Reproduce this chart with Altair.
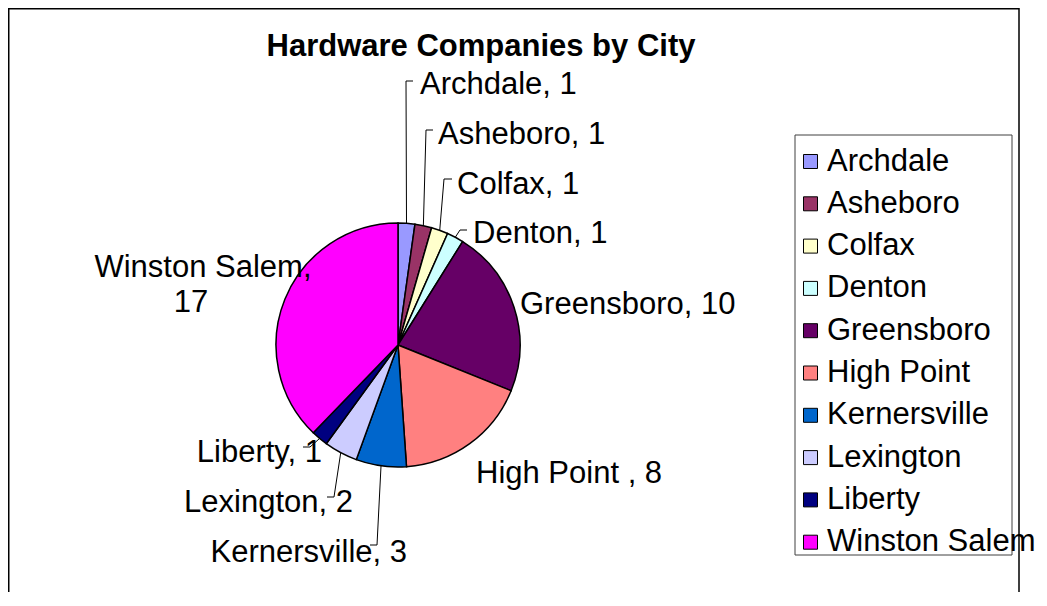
import math
import altair as alt
import pandas as pd

# ---- data ----
cities = ["Archdale", "Asheboro", "Colfax", "Denton", "Greensboro",
          "High Point ", "Kernersville", "Lexington", "Liberty", "Winston Salem"]
counts = [1, 1, 1, 1, 10, 8, 3, 2, 1, 17]
colors = ["#9999FF", "#993366", "#FFFFCC", "#CCFFFF", "#660066",
          "#FF8080", "#0066CC", "#CCCCFF", "#000080", "#FF00FF"]
title_text = "Hardware Companies by City"

# ---- layout (page pixel coordinates) ----
M = 8                      # page margin
W, H = 1031, 584           # svg size
CX, CY, R = 398, 345, 122  # pie centre / radius
FONT = "Liberation Sans"
FS = 31

label_layout = {
    "Archdale":      dict(x=420, y=94,  align="left",  elbow=(406, 81),  end=(413, 81)),
    "Asheboro":      dict(x=438, y=144, align="left",  elbow=(426, 130), end=(433, 130)),
    "Colfax":        dict(x=457, y=194, align="left",  elbow=(444, 179), end=(452, 179)),
    "Denton":        dict(x=473, y=243, align="left",  elbow=(460, 230), end=(467, 230)),
    "Greensboro":    dict(x=520, y=314, align="left"),
    "High Point ":   dict(x=476, y=483, align="left"),
    "Kernersville":  dict(x=407, y=562, align="right", elbow=(377, 545), end=(370, 545)),
    "Lexington":     dict(x=353, y=512, align="right", elbow=(334, 497), end=(327, 497)),
    "Liberty":       dict(x=322, y=462, align="right", elbow=(310, 447), end=(303, 447)),
    "Winston Salem": dict(lines=[(203, 277), (191, 312)], align="center"),
}
legend_box = (795, 135, 1012, 555)

# ---- tables ----
df = pd.DataFrame({"city": cities, "count": counts, "idx": range(len(cities))})
total = sum(counts)

lab_rows, lead_rows = [], []
cum = 0
for c, v in zip(cities, counts):
    mid = (cum + v / 2) / total * 2 * math.pi
    cum += v
    lay = label_layout[c]
    if "lines" in lay:
        texts = [f"{c},", f"{v}"]
        for t, (lx, ly) in zip(texts, lay["lines"]):
            lab_rows.append(dict(text=t, px=lx, py=ly, align=lay["align"]))
    else:
        lab_rows.append(dict(text=f"{c}, {v}", px=lay["x"], py=lay["y"], align=lay["align"]))
    if "elbow" in lay:
        sx = CX + R * math.sin(mid)
        sy = CY - R * math.cos(mid)
        pts = [(sx, sy), lay["elbow"], lay["end"]]
        for i, (px, py) in enumerate(pts):
            lead_rows.append(dict(city=c, seq=i, px=px, py=py))

lab_df = pd.DataFrame(lab_rows)
lead_df = pd.DataFrame(lead_rows)

X = alt.X("px:Q", scale=alt.Scale(domain=[M, M + W], range=[0, W], nice=False, zero=False), axis=None)
Y = alt.Y("py:Q", scale=alt.Scale(domain=[M, M + H], range=[0, H], nice=False, zero=False), axis=None)

one = pd.DataFrame({"t": [title_text]})

outer = alt.Chart(one).mark_rect(fillOpacity=0, stroke="black", strokeWidth=1.5).encode(
    x=alt.value(0.75), x2=alt.value(1019 - M), y=alt.value(0.75), y2=alt.value(H + 20))

lbox = alt.Chart(one).mark_rect(fillOpacity=0, stroke="#404040", strokeWidth=1).encode(
    x=alt.value(legend_box[0] - M), x2=alt.value(legend_box[2] - M),
    y=alt.value(legend_box[1] - M), y2=alt.value(legend_box[3] - M))

pie = alt.Chart(df).mark_arc(outerRadius=R, stroke="black", strokeWidth=1.5).encode(
    theta=alt.Theta("count:Q", stack=True),
    order=alt.Order("idx:Q"),
    color=alt.Color(
        "city:N",
        sort=cities,
        scale=alt.Scale(domain=cities, range=colors),
        legend=alt.Legend(
            title=None, orient="none", legendX=795 - M, legendY=146 - M,
            symbolType="square", symbolSize=196, symbolStrokeColor="black",
            symbolStrokeWidth=1, symbolOpacity=1,
            labelFont=FONT, labelFontSize=FS, labelColor="black",
            labelOffset=1, labelLimit=400, rowPadding=10.3, padding=0,
        ),
    ),
    x=alt.value(CX - M), y=alt.value(CY - M),
)

leaders = alt.Chart(lead_df).mark_line(color="black", strokeWidth=1).encode(
    x=X, y=Y, detail="city:N", order="seq:Q")

def text_layer(al):
    return alt.Chart(lab_df).transform_filter(alt.datum.align == al).mark_text(
        font=FONT, fontSize=FS, baseline="alphabetic", align=al, color="black"
    ).encode(x=X, y=Y, text="text:N")

title = alt.Chart(one).mark_text(
    font=FONT, fontSize=FS, fontWeight="bold", align="center", baseline="alphabetic", color="black"
).encode(text="t:N", x=alt.value(481 - M), y=alt.value(56 - M))

chart = alt.layer(
    outer, pie, leaders, text_layer("left"), text_layer("right"), text_layer("center"), title, lbox
).properties(
    width=W, height=H, autosize=alt.AutoSizeParams(type="none"), padding=0, background="white"
).configure_view(strokeWidth=0)

chart.save("out.html", embed_options={"renderer": "svg", "actions": False})
